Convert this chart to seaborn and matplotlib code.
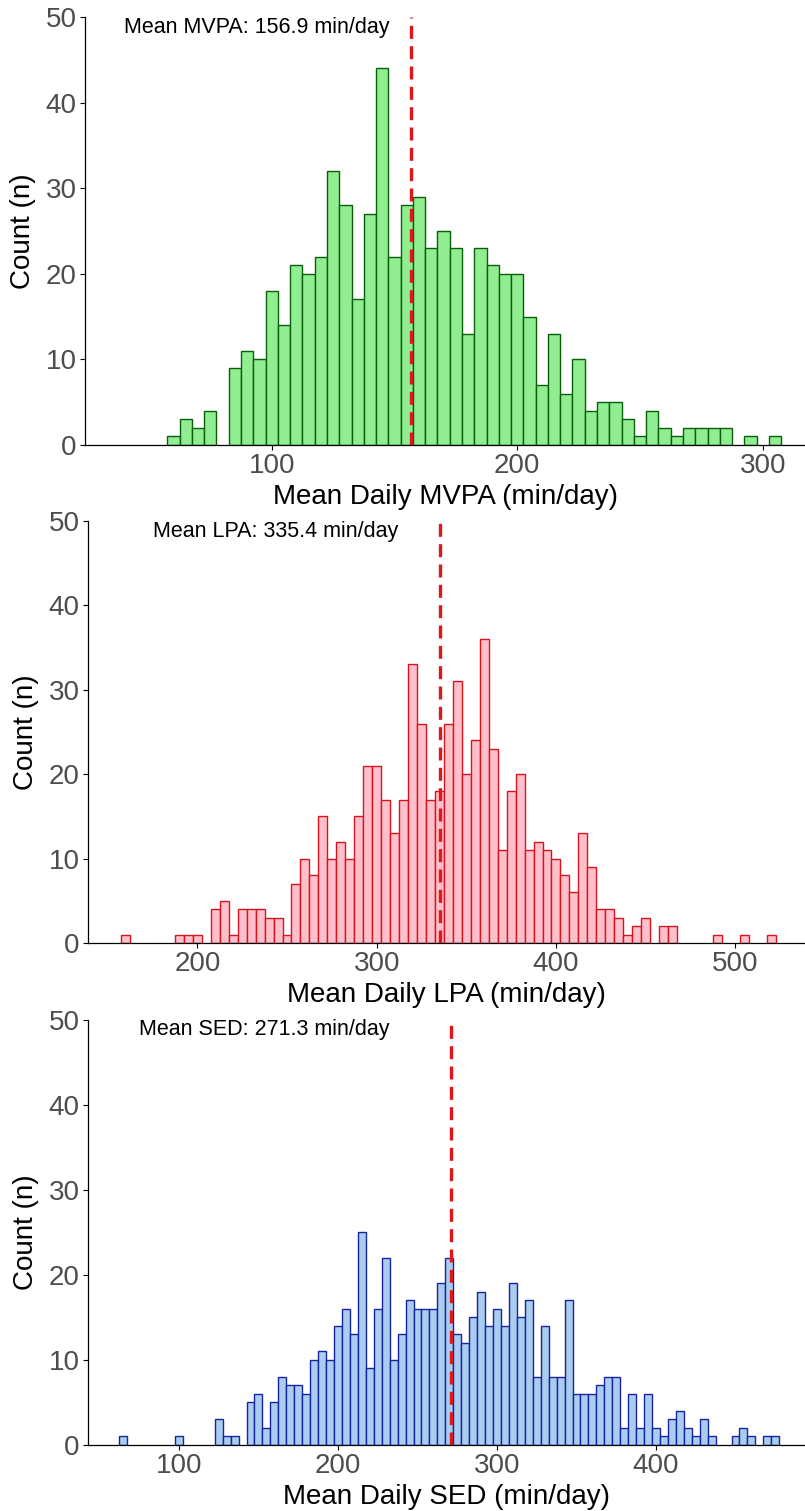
import numpy as np
import matplotlib
matplotlib.use("Agg")
import matplotlib.pyplot as plt
import seaborn as sns

# bin centres (binwidth 5) and counts
mvpa_bins = np.arange(60, 310, 5)
mvpa_counts = [1, 3, 2, 4, 0, 9, 11, 10, 18, 14,
               21, 20, 22, 32, 28, 17, 27, 44, 22, 28,
               29, 23, 25, 23, 13, 23, 21, 20, 20, 15,
               7, 13, 6, 10, 4, 5, 5, 3, 1, 4,
               2, 1, 2, 2, 2, 2, 0, 1, 0, 1]
mvpa_mean = 156.9

lpa_bins = np.arange(160, 525, 5)
lpa_counts = [1, 0, 0, 0, 0, 0, 1, 1, 1, 0,
              4, 5, 1, 4, 4, 4, 3, 3, 1, 7,
              10, 8, 15, 10, 12, 10, 15, 21, 21, 17,
              13, 17, 33, 26, 17, 18, 26, 31, 20, 24,
              36, 23, 11, 18, 20, 11, 12, 11, 10, 8,
              6, 13, 9, 4, 4, 3, 1, 2, 3, 0,
              2, 2, 0, 0, 0, 0, 1, 0, 0, 1,
              0, 0, 1]
lpa_mean = 335.4

sed_bins = np.arange(65, 480, 5)
sed_counts = [1, 0, 0, 0, 0, 0, 0, 1, 0, 0,
              0, 0, 3, 1, 1, 0, 5, 6, 2, 5,
              8, 7, 7, 6, 10, 11, 10, 14, 16, 13,
              25, 9, 16, 22, 10, 13, 17, 16, 16, 16,
              19, 22, 13, 12, 15, 18, 14, 16, 14, 19,
              15, 17, 8, 14, 8, 8, 17, 6, 6, 6,
              7, 8, 8, 2, 6, 2, 6, 2, 1, 3,
              4, 2, 1, 3, 1, 0, 0, 1, 2, 1,
              0, 1, 1]
sed_mean = 271.3

panels = [
    dict(bins=mvpa_bins, counts=mvpa_counts, mean=mvpa_mean,
         fill="#90EE90", edge="#0B5E0B",
         xlabel="Mean Daily MVPA (min/day)", label="Mean MVPA: 156.9 min/day",
         xticks=[100, 200, 300], xlim=(23.95, 317.2), text_x=40,
         box=(85, 17, 445)),
    dict(bins=lpa_bins, counts=lpa_counts, mean=lpa_mean,
         fill="#FFC0CB", edge="#D7141E",
         xlabel="Mean Daily LPA (min/day)", label="Mean LPA: 335.4 min/day",
         xticks=[200, 300, 400, 500], xlim=(139.0, 538.9), text_x=175,
         box=(88, 521, 943)),
    dict(bins=sed_bins, counts=sed_counts, mean=sed_mean,
         fill="#A9CCEF", edge="#1624A0",
         xlabel="Mean Daily SED (min/day)", label="Mean SED: 271.3 min/day",
         xticks=[100, 200, 300, 400], xlim=(42.8, 493.7), text_x=75,
         box=(88, 1019.5, 1445)),
]

sns.set_theme(style="ticks")
plt.rcParams["font.family"] = ["Liberation Sans", "DejaVu Sans"]

W, H = 805, 1511
fig = plt.figure(figsize=(W / 100, H / 100), dpi=100)

for p in panels:
    left, top, bottom = p["box"]
    ax = fig.add_axes([left / W, 1 - bottom / H, (W - left) / W, (bottom - top) / H])
    sns.histplot(x=p["bins"], weights=p["counts"], binwidth=5,
                 binrange=(p["bins"][0] - 2.5, p["bins"][-1] + 2.5),
                 color=p["fill"], edgecolor=p["edge"], linewidth=1.0,
                 alpha=1, ax=ax)
    # empty bins draw no outline in the original
    for bar in ax.patches:
        if bar.get_height() == 0:
            bar.set_visible(False)
    ax.axvline(p["mean"], color="#E0161B", lw=2.4, ls=(0, (3.9, 2.2)))
    ax.text(p["text_x"], 48.8, p["label"], fontsize=15.5, ha="left",
            va="center", color="black")
    ax.set_xlim(*p["xlim"])
    ax.set_ylim(0, 50)
    ax.set_xticks(p["xticks"])
    ax.set_yticks([0, 10, 20, 30, 40, 50])
    ax.set_xlabel(p["xlabel"], fontsize=20, color="black", labelpad=3)
    ax.set_ylabel("Count (n)", fontsize=20, color="black", labelpad=7)
    ax.tick_params(axis="both", labelsize=20, labelcolor="#4D4D4D",
                   color="black", length=3.6, width=0.8, pad=2.5)
    for s in ["left", "bottom"]:
        ax.spines[s].set_color("black")
        ax.spines[s].set_linewidth(0.9)
    sns.despine(ax=ax)

fig.savefig("out.png", dpi=100)
